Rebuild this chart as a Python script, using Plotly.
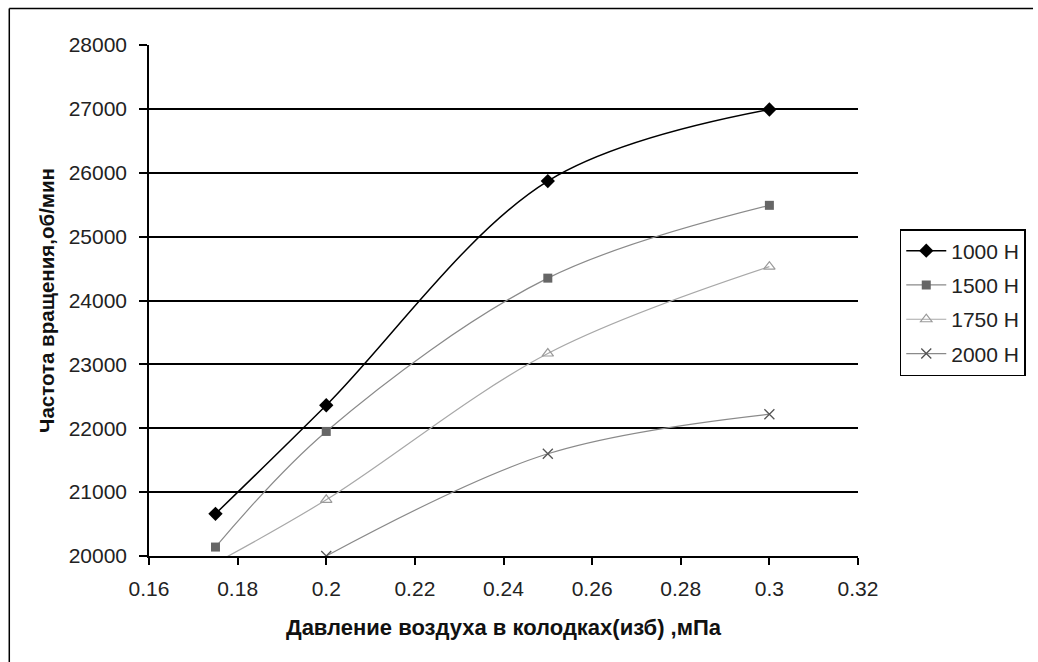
import plotly.graph_objects as go

pressure = [0.175, 0.2, 0.25, 0.3]
pressure_2000 = [0.2, 0.25, 0.3]
rpm_1000 = [20660, 22360, 25870, 26990]
rpm_1500 = [20140, 21950, 24350, 25490]
rpm_1750 = [19890, 20880, 23170, 24530]
rpm_2000 = [20000, 21600, 22220]

x_ticks = [0.16, 0.18, 0.2, 0.22, 0.24, 0.26, 0.28, 0.3, 0.32]
x_tick_text = ["0.16", "0.18", "0.2", "0.22", "0.24", "0.26", "0.28", "0.3", "0.32"]
y_ticks = [20000, 21000, 22000, 23000, 24000, 25000, 26000, 27000, 28000]
y_tick_text = ["20000", "21000", "22000", "23000", "24000", "25000", "26000", "27000", "28000"]
y_grid = [21000, 22000, 23000, 24000, 25000, 26000, 27000]

FONT = "Liberation Sans, Arial, sans-serif"
W, H = 1038, 662
L, R, T, B = 149, 176, 45, 106
PW, PH = W - L - R, H - T - B
FRAME = 8.5  # outer chart frame position in px from the top-left corner

fig = go.Figure()
fig.add_trace(go.Scatter(x=pressure, y=rpm_1000, name="1000 H", mode="lines+markers", legendgroup="a",
                         line=dict(color="black", width=1.5, shape="spline", smoothing=1),
                         marker=dict(symbol="diamond", size=11, color="black")))
fig.add_trace(go.Scatter(x=pressure, y=rpm_1500, name="1500 H", mode="lines+markers", legendgroup="b",
                         line=dict(color="#8a8a8a", width=1.2, shape="spline", smoothing=1),
                         marker=dict(symbol="square", size=9, color="#666666")))
fig.add_trace(go.Scatter(x=pressure, y=rpm_1750, name="1750 H", mode="lines+markers", legendgroup="c",
                         line=dict(color="#a8a8a8", width=1.2, shape="spline", smoothing=1),
                         marker=dict(symbol="triangle-up-open", size=10, color="#9a9a9a",
                                     line=dict(width=1.2))))
fig.add_trace(go.Scatter(x=pressure_2000, y=rpm_2000, name="2000 H", mode="lines+markers", legendgroup="d",
                         line=dict(color="#8a8a8a", width=1.2, shape="spline", smoothing=1),
                         marker=dict(symbol="x-thin-open", size=10, color="#555555",
                                     line=dict(width=1.3))))

# invisible trace on overlay axis to carry gridlines
fig.add_trace(go.Scatter(x=[0.16], y=[20000], yaxis="y2", showlegend=False,
                         mode="markers", marker=dict(opacity=0), hoverinfo="skip"))

fig.update_layout(
    width=W, height=H,
    margin=dict(l=L, r=R, t=T, b=B),
    paper_bgcolor="white", plot_bgcolor="white",
    font=dict(family=FONT, size=21, color="#222222"),
    xaxis=dict(range=[0.16, 0.32], tickvals=x_ticks, ticktext=x_tick_text,
               showgrid=False, zeroline=False, showline=True, linecolor="black", linewidth=1.5,
               ticks="outside", ticklen=7, tickcolor="black", tickwidth=1.5,
               ticklabelstandoff=6,
               tickfont=dict(size=21, color="#222222"),
               title=dict(text="<b>Давление воздуха в колодках(изб) ,мПа</b>",
                          font=dict(size=22, color="#111111"), standoff=21)),
    yaxis=dict(range=[20000, 28000], tickvals=y_ticks, ticktext=y_tick_text,
               showgrid=False, zeroline=False, showline=True, linecolor="black", linewidth=1.5,
               ticks="outside", ticklen=8, tickcolor="black", tickwidth=1.5,
               ticklabelstandoff=8,
               tickfont=dict(size=21, color="#222222"),
               title=dict(text="<b>Частота вращения,об/мин</b>",
                          font=dict(size=20.5, color="#111111"), standoff=8)),
    yaxis2=dict(range=[20000, 28000], overlaying="y", side="left", tickvals=y_grid,
                showgrid=True, gridcolor="black", gridwidth=1.8, showticklabels=False,
                ticks="", zeroline=False, showline=False),
    legend=dict(x=(904 - L) / PW, y=(T + PH - 229) / PH, xanchor="left", yanchor="top",
                bordercolor="black", borderwidth=1.5, bgcolor="white",
                font=dict(size=21, color="#222222"), tracegroupgap=4,
                itemwidth=40),
    shapes=[
        dict(type="line", xref="paper", yref="paper", x0=(FRAME - L) / PW, x1=(W - L) / PW,
             y0=(T + PH - FRAME) / PH, y1=(T + PH - FRAME) / PH,
             line=dict(color="black", width=1.5)),
        dict(type="line", xref="paper", yref="paper", x0=(FRAME - L) / PW, x1=(FRAME - L) / PW,
             y0=(T + PH - FRAME) / PH, y1=-B / PH,
             line=dict(color="black", width=1.5)),
    ],
)

fig.write_html("out.html", config={"displayModeBar": False},
               post_script="document.body.style.margin='0';document.body.style.overflow='hidden';")
